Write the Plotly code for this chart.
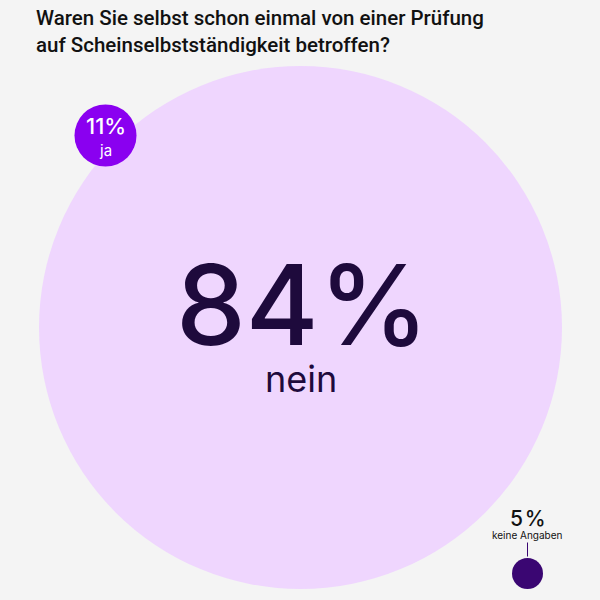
import plotly.graph_objects as go

# survey answers
categories = ["nein", "ja", "keine Angaben"]
values = [84, 11, 5]
title = "Waren Sie selbst schon einmal von einer Prüfung<br>auf Scheinselbstständigkeit betroffen?"

# layout of the bubbles (pixel space of the 600x600 canvas)
pos_x = [300.5, 105.5, 527.5]
pos_y = [327.5, 135.5, 573.5]
sizes = [523, 62, 31]
colors = ["#EFD6FE", "#8A00F0", "#3A0672"]

FONT = "Inter"
DARK = "#1E0A3C"

fig = go.Figure()
fig.add_trace(go.Scatter(
    x=pos_x, y=pos_y, mode="markers",
    marker=dict(size=sizes, color=colors, line=dict(width=0), opacity=1),
    hoverinfo="skip", showlegend=False,
))

# leader line for the small bubble
fig.add_trace(go.Scatter(
    x=[pos_x[2], pos_x[2]], y=[pos_y[2] - 31, pos_y[2] - 17], mode="lines",
    line=dict(color="#3A0672", width=1), hoverinfo="skip", showlegend=False,
))

ann = []
# big one
ann.append(dict(x=pos_x[0] + 2, y=304, text=f"{values[0]}%", showarrow=False,
                font=dict(family=FONT, size=111, color=DARK, weight=500), xanchor="center", yanchor="middle"))
ann.append(dict(x=pos_x[0], y=379, text=categories[0], showarrow=False,
                font=dict(family=FONT, size=36, color=DARK), xanchor="center", yanchor="middle"))
# ja
ann.append(dict(x=pos_x[1], y=126, text=f"{values[1]}%", showarrow=False,
                font=dict(family=FONT, size=22, color="white", weight=500), xanchor="center", yanchor="middle"))
ann.append(dict(x=pos_x[1], y=150, text=categories[1], showarrow=False,
                font=dict(family=FONT, size=15, color="white"), xanchor="center", yanchor="middle"))
# keine Angaben
ann.append(dict(x=pos_x[2], y=518, text=f"{values[2]}\u200a%", showarrow=False,
                font=dict(family=FONT, size=21, color="#111111", weight=500), xanchor="center", yanchor="middle"))
ann.append(dict(x=pos_x[2], y=535, text=categories[2], showarrow=False,
                font=dict(family=FONT, size=10, color="#111111"), xanchor="center", yanchor="middle"))
# title
ann.append(dict(x=34, y=4, text=title, showarrow=False, align="left",
                font=dict(family="Roboto", size=20.5, color="#111111", weight=500), xanchor="left", yanchor="top"))

fig.update_layout(
    width=600, height=600,
    margin=dict(l=0, r=0, t=0, b=0),
    paper_bgcolor="#F4F4F4", plot_bgcolor="#F4F4F4",
    xaxis=dict(range=[0, 600], visible=False, fixedrange=True),
    yaxis=dict(range=[600, 0], visible=False, fixedrange=True),
    annotations=ann,
)

fig.write_html("out.html", config={"displayModeBar": False},
               post_script="document.body.style.margin='0';")
